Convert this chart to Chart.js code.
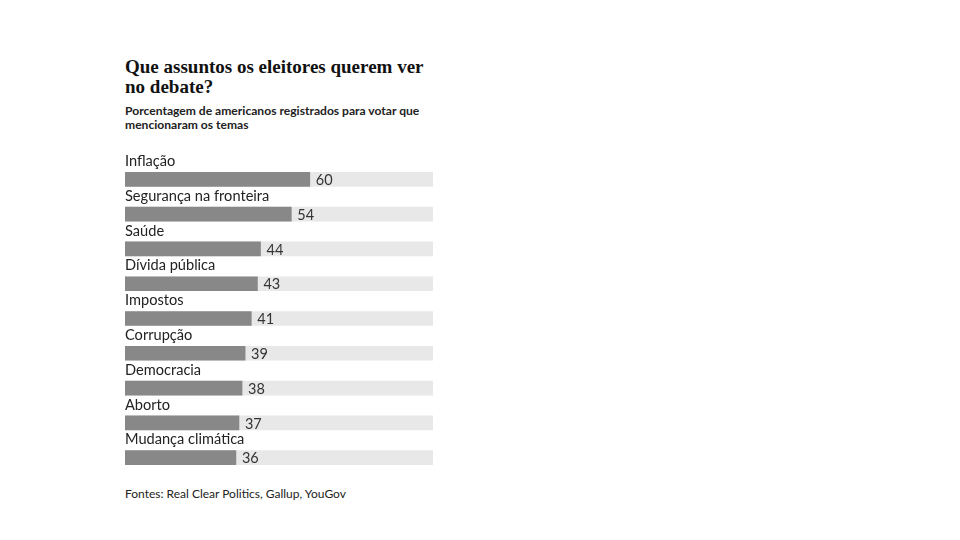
<!DOCTYPE html>
<html><head><meta charset="utf-8">
<script src="https://cdn.jsdelivr.net/npm/chart.js@4"></script>
<style>
html,body{margin:0;padding:0;background:#fff;width:960px;height:540px;overflow:hidden}
#title{position:absolute;left:125px;top:57px;width:305px;font-family:"Liberation Serif","DejaVu Serif",serif;font-weight:bold;font-size:19px;line-height:19.5px;color:#111}
#sub{position:absolute;left:125px;top:104px;width:310px;font-family:Lato,"Open Sans",sans-serif;font-weight:bold;font-size:12.1px;line-height:14px;color:#222}
#src{position:absolute;left:125px;top:486px;font-family:Lato,"Open Sans",sans-serif;font-size:12px;color:#222}
#wrap{position:absolute;left:125px;top:140px;width:308px;height:335px}
</style></head><body>
<div id="title">Que assuntos os eleitores querem ver no debate?</div>
<div id="sub">Porcentagem de americanos registrados para votar que mencionaram os temas</div>
<div id="wrap"><canvas id="c"></canvas></div>
<div id="src">Fontes: Real Clear Politics, Gallup, YouGov</div>
<script>
const categories = ["Inflação","Segurança na fronteira","Saúde","Dívida pública","Impostos","Corrupção","Democracia","Aborto","Mudança climática"];
const values = [60,54,44,43,41,39,38,37,36];
const totals = [100,100,100,100,100,100,100,100,100];

const labelPlugin = {
  id:'labels',
  afterDatasetsDraw(chart){
    const ctx = chart.ctx;
    const y = chart.scales.y, x = chart.scales.x;
    ctx.save();
    ctx.textBaseline='middle';
    categories.forEach((c,i)=>{
      const yc = y.getPixelForValue(i);
      ctx.fillStyle='#222';
      ctx.font='14.6px Lato,"Open Sans",sans-serif';
      ctx.textAlign='left';
      ctx.fillText(c, x.getPixelForValue(0), yc-18);
      ctx.font='14.5px Lato,"Open Sans",sans-serif';
      ctx.fillStyle='#333';
      ctx.fillText(String(values[i]), x.getPixelForValue(values[i])+6, yc+1);
    });
    ctx.restore();
  }
};

new Chart(document.getElementById('c'),{
  type:'bar',
  data:{labels:categories,datasets:[
    {data:values,backgroundColor:'#888888',barThickness:14,grouped:false,order:1},
    {data:totals,backgroundColor:'#e8e8e8',barThickness:14,grouped:false,order:2}
  ]},
  options:{
    indexAxis:'y',responsive:true,maintainAspectRatio:false,animation:false,
    layout:{padding:{top:22,left:0,right:0,bottom:0}},
    plugins:{legend:{display:false},tooltip:{enabled:false}},
    scales:{
      x:{display:false,min:0,max:100},
      y:{display:false}
    }
  },
  plugins:[labelPlugin]
});
</script>
</body></html>
